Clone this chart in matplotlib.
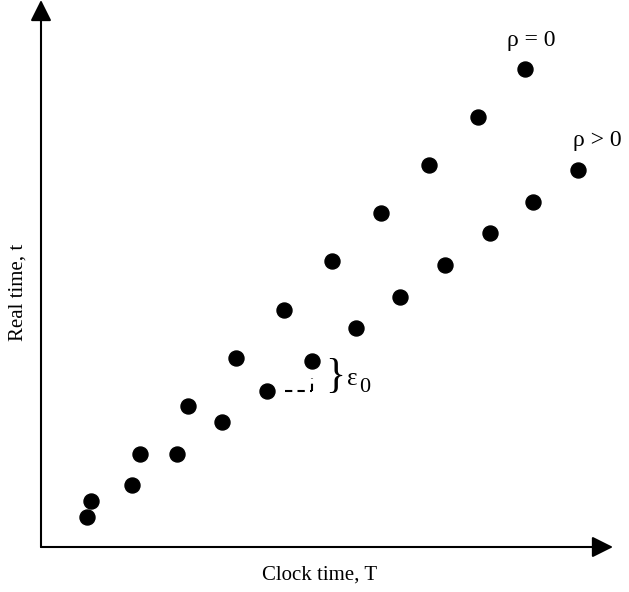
import matplotlib
matplotlib.use('Agg')
import matplotlib.pyplot as plt

plt.rcParams['font.family'] = ['Liberation Serif', 'DejaVu Serif']

# clock time T and real time t for the two clocks (arbitrary units)
T_rho0 = [5.0, 9.9, 14.7, 19.5, 24.3, 29.1, 34.0, 38.8, 43.7, 48.4]
t_rho0 = [4.6, 9.3, 14.1, 18.9, 23.7, 28.6, 33.4, 38.2, 43.0, 47.8]

T_rhopos = [4.6, 9.1, 13.6, 18.1, 22.6, 27.1, 31.5, 35.9, 40.4, 44.9, 49.2, 53.7]
t_rhopos = [3.0, 6.2, 9.3, 12.5, 15.6, 18.6, 21.9, 25.0, 28.2, 31.4, 34.5, 37.7]

fig = plt.figure(figsize=(6.29, 5.92), dpi=100)
ax = fig.add_axes([0, 0, 1, 1])
ax.set_xlim(-4.1, 58.8)
ax.set_ylim(-4.5, 54.7)
ax.axis('off')

# axes with arrow heads
ax.annotate('', xy=(0, 54.7), xytext=(0, 0),
            arrowprops=dict(arrowstyle='-|>', color='black', lw=1.5,
                            mutation_scale=32, shrinkA=0, shrinkB=0))
ax.annotate('', xy=(57.2, 0), xytext=(0, 0),
            arrowprops=dict(arrowstyle='-|>', color='black', lw=1.5,
                            mutation_scale=32, shrinkA=0, shrinkB=0))

ax.plot(T_rho0, t_rho0, 'o', color='black', markersize=10.8, linestyle='none')
ax.plot(T_rhopos, t_rhopos, 'o', color='black', markersize=10.8, linestyle='none')

# epsilon_0 offset marker
x0, y0 = T_rhopos[4], t_rhopos[4]
x1 = T_rhopos[5]
ax.plot([x0 + 1.8, x1], [y0, y0], color='black', lw=1.5, ls=(0, (3.5, 2.5)))
ax.plot([x1, x1], [y0, y0 + 1.3], color='black', lw=1.5, ls=(0, (3.5, 2.5)))
ax.text(29.4, 17.0, '}', fontsize=30, ha='center', va='center')
ax.text(30.6, 16.8, 'ε', fontsize=18, ha='left', va='center')
ax.text(31.8, 15.9, '0', fontsize=16, ha='left', va='center')

ax.text(49.0, 50.7, 'ρ = 0', fontsize=17, ha='center', va='center')
ax.text(55.6, 40.7, 'ρ > 0', fontsize=17, ha='center', va='center')

ax.text(27.9, -2.8, 'Clock time, T', fontsize=15, ha='center', va='center')
ax.text(-2.3, 25.5, 'Real time, t', fontsize=15, ha='center', va='center',
        rotation=90)

fig.savefig('out.png', dpi=100)
